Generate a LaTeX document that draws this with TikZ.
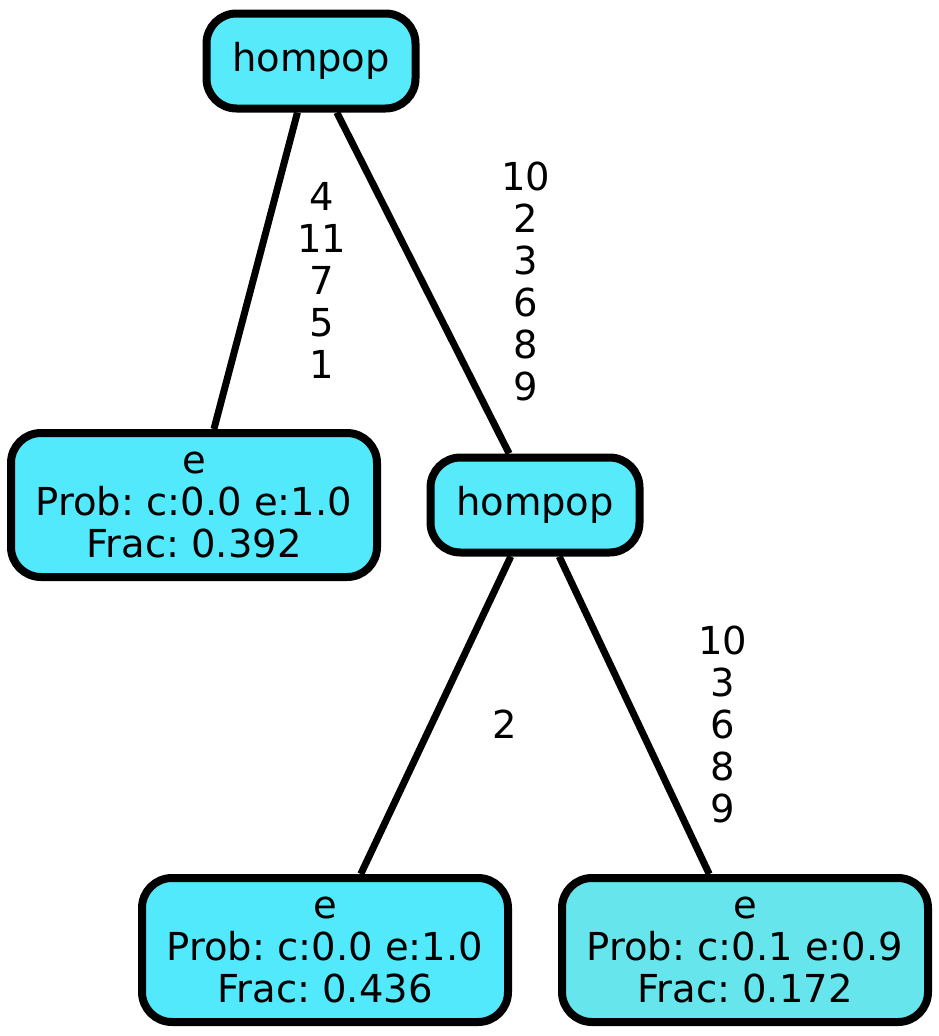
\documentclass[tikz,border=0pt]{standalone}
\usepackage{fontspec}
\setmainfont{DejaVu Sans}
\frenchspacing
\usepackage{tikz}
\usetikzlibrary{
  positioning,
  calc,
}
\definecolor{nodecyan}{HTML}{57EAFB}
\definecolor{leafcyan}{HTML}{53E9FD}
\definecolor{paletcyan}{HTML}{66E6EC}

\begin{document}
\begin{tikzpicture}[
    x=1pt, y=-1pt,
    every node/.style={font=\fontsize{38.5}{42}\selectfont},
    split/.style={draw=black, line width=8pt, rounded corners=30pt, fill=nodecyan,
      minimum width=209pt, minimum height=95pt, inner sep=0pt},
    leaf/.style={draw=black, line width=8pt, rounded corners=30pt, fill=leafcyan,
      minimum width=366pt, minimum height=144pt, inner sep=0pt, align=center},
    elabel/.style={align=center, inner sep=0pt},
    link/.style={line width=7pt},
  ]
  \useasboundingbox (0,0) rectangle (939,1036);

  % Split nodes
  \node[split] (hroot) at (311, 61)  {hompop};
  \node[split] (hmid)  at (535, 505) {hompop};

  % Leaves
  \node[leaf] (eleft) at (194, 505) {e\\Prob: c:0.0 e:1.0\\Frac: 0.392};
  \node[leaf] (ebl)   at (325, 950) {e\\Prob: c:0.0 e:1.0\\Frac: 0.436};
  \node[leaf, fill=paletcyan] (ebr) at (745, 950) {e\\Prob: c:0.1 e:0.9\\Frac: 0.172};

  % Edges
  \draw[link] (hroot) -- (eleft);
  \draw[link] (hroot) -- (hmid);
  \draw[link] (hmid) -- (ebl);
  \draw[link] (hmid) -- (ebr);

  % Edge labels
  \node[elabel] (lleft) at (322, 280) {4\\11\\7\\5\\1};
  \node[elabel] (lmid)  at (526, 281) {10\\2\\3\\6\\8\\9};
  \node[elabel] (lbl)   at (505, 724) {2};
  \node[elabel] (lbr)   at (723, 724) {10\\3\\6\\8\\9};
\end{tikzpicture}
\end{document}
